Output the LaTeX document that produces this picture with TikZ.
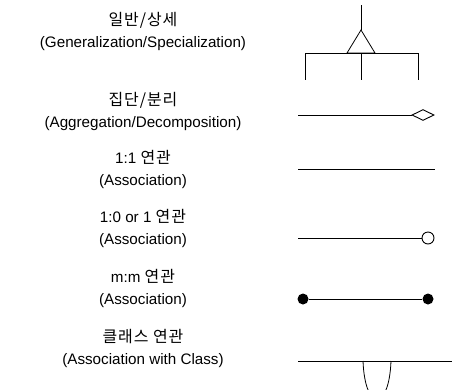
\documentclass[tikz,border=0pt]{standalone}
\usepackage{fontspec}
\usetikzlibrary{shapes.geometric}
\setmainfont{Liberation Sans}
\newfontfamily\kr[Scale=1.05,LetterSpace=6]{Noto Sans CJK KR}
\begin{document}
\begin{tikzpicture}[x=1pt,y=-1pt,
  lbl/.style={align=center,font=\fontsize{15.2}{22}\selectfont,inner sep=0pt},
  ln/.style={line width=0.9pt},
  thin/.style={line width=0.8pt}]
\useasboundingbox (0,0) rectangle (452,389);
\clip (0,0) rectangle (452,389);
% labels
\node[lbl] (t1) at (143,31) {{\kr 일반/상세}\\(Generalization/Specialization)};
\node[lbl] (t2) at (143,111) {{\kr 집단/분리}\\(Aggregation/Decomposition)};
\node[lbl] (t3) at (143,169) {1:1 {\kr 연관}\\(Association)};
\node[lbl] (t4) at (143,228) {1:0 or 1 {\kr 연관}\\(Association)};
\node[lbl] (t5) at (143,288) {m:m {\kr 연관}\\(Association)};
\node[lbl] (t6) at (143,348) {{\kr 클래스 연관}\\(Association with Class)};
% generalization
\coordinate (gtop) at (361,5);
\coordinate (gapex) at (361,30);
\coordinate (gbl) at (347,53);
\coordinate (gbr) at (375,53);
\coordinate (gl) at (305,53);
\coordinate (gr) at (418,53);
\coordinate (gm) at (361,53);
\coordinate (gld) at (305,80);
\coordinate (gmd) at (361,80);
\coordinate (grd) at (418,80);
\draw[thin] (gtop) -- (gapex);
\draw[thin] (gapex) -- (gbl) -- (gbr) -- cycle;
\draw[thin] (gl) -- (gr);
\draw[thin] (gl) -- (gld);
\draw[thin] (gm) -- (gmd);
\draw[thin] (gr) -- (grd);
% aggregation
\coordinate (a1) at (298,115);
\node[draw,line width=0.9pt,diamond,aspect=2,minimum width=22pt,minimum height=11pt,inner sep=0pt] (ad) at (423,115) {};
\draw[ln] (a1) -- (ad);
% 1:1
\coordinate (b1) at (298,169);
\coordinate (b2) at (435,169);
\draw[ln] (b1) -- (b2);
% 1:0 or 1
\coordinate (c1) at (298,238);
\node[draw,circle,line width=0.9pt,minimum size=12pt,inner sep=0pt] (cc) at (428,238) {};
\draw[ln] (c1) -- (cc);
% m:m
\node[fill,circle,minimum size=11pt,inner sep=0pt] (d1) at (303,299) {};
\node[fill,circle,minimum size=11pt,inner sep=0pt] (d2) at (428,299) {};
\draw[ln] (d1) -- (d2);
% class association
\coordinate (e1) at (298,361);
\coordinate (e2) at (452,361);
\draw[ln] (e1) -- (e2);
\coordinate (u1) at (363,361);
\coordinate (u2) at (391,361);
\draw[thin] (u1) .. controls (365,412) and (389,412) .. (u2);
\end{tikzpicture}
\end{document}
